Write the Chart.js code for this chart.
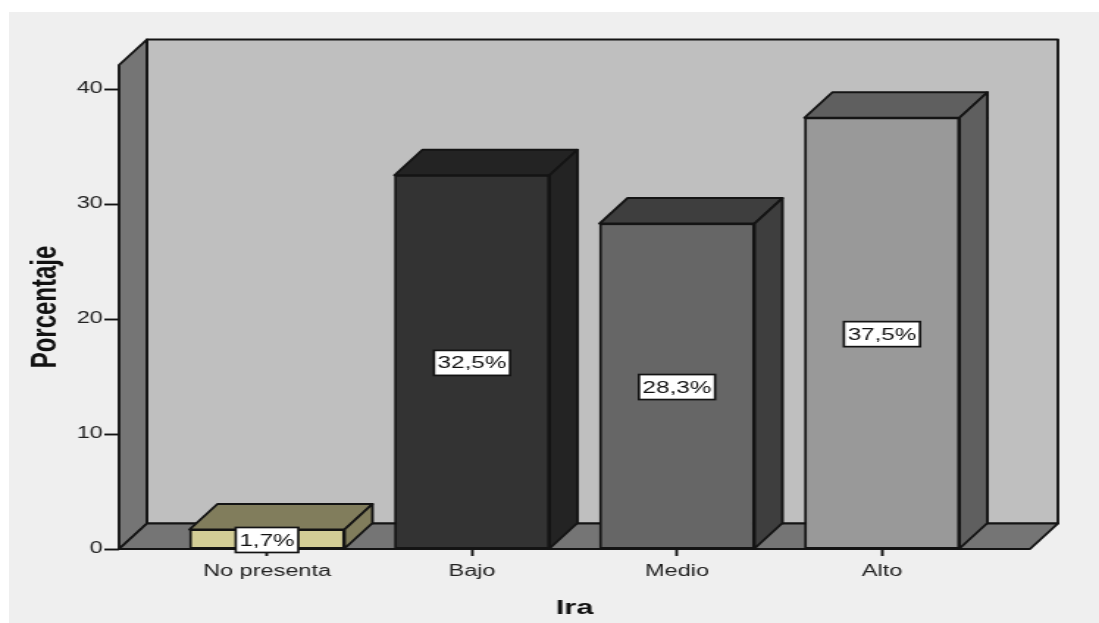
<!DOCTYPE html>
<html>
<head>
<meta charset="utf-8">
<script src="https://cdn.jsdelivr.net/npm/chart.js@4"></script>
<style>
  html, body { margin: 0; background: #fff; overflow: hidden; }
  #bg { position: absolute; left: 9px; top: 12px; right: 0; bottom: 0; background: #efefef; }
  /* the reference is a stretched screenshot, so the canvas is stretched the same way */
  #my-chart { position: absolute; left: 0; top: 0; transform-origin: 0 0; transform: scaleX(1.4693); }
</style>
</head>
<body>
<div id="bg"></div>
<canvas id="my-chart" width="748" height="623"></canvas>
<script>
const categories = ['No presenta', 'Bajo', 'Medio', 'Alto'];
const percentages = [1.7, 32.5, 28.3, 37.5];
const percentLabels = ['1,7%', '32,5%', '28,3%', '37,5%'];

const frontColors = ['#d3cd96', '#333333', '#666666', '#999999'];
const shadeColors = ['#817d5c', '#232323', '#3e3e3e', '#5f5f5f'];

const lineColor = '#141414';
const lineWidth = 1.9;
const depthX = 19;
const depthY = 25.5;

function poly(ctx, pts, fill) {
    ctx.beginPath();
    pts.forEach((p, i) => i ? ctx.lineTo(p[0], p[1]) : ctx.moveTo(p[0], p[1]));
    ctx.closePath();
    ctx.fillStyle = fill;
    ctx.fill();
    ctx.stroke();
}

const box3d = {
    id: 'box3d',
    beforeDatasetsDraw(chart) {
        const ctx = chart.ctx;
        const a = chart.chartArea;
        ctx.save();
        ctx.strokeStyle = lineColor;
        ctx.lineWidth = lineWidth;
        ctx.lineJoin = 'round';

        // back wall, left wall, floor
        poly(ctx, [[a.left + depthX, a.top - depthY], [a.right + depthX, a.top - depthY], [a.right + depthX, a.bottom - depthY], [a.left + depthX, a.bottom - depthY]], '#bfbfbf');
        poly(ctx, [[a.left, a.top], [a.left + depthX, a.top - depthY], [a.left + depthX, a.bottom - depthY], [a.left, a.bottom]], '#757575');
        poly(ctx, [[a.left, a.bottom], [a.left + depthX, a.bottom - depthY], [a.right + depthX, a.bottom - depthY], [a.right, a.bottom]], '#757575');

        // top and side of the bars
        chart.getDatasetMeta(0).data.forEach((bar, i) => {
            const l = bar.x - bar.width / 2;
            const r = bar.x + bar.width / 2;
            poly(ctx, [[l, bar.y], [l + depthX, bar.y - depthY], [r + depthX, bar.y - depthY], [r, bar.y]], shadeColors[i]);
            poly(ctx, [[r, bar.y], [r + depthX, bar.y - depthY], [r + depthX, bar.base - depthY], [r, bar.base]], shadeColors[i]);
        });
        ctx.restore();
    },
    afterDatasetsDraw(chart) {
        const ctx = chart.ctx;
        ctx.save();
        ctx.font = '16.5px "Liberation Sans"';
        ctx.textAlign = 'center';
        ctx.textBaseline = 'middle';
        chart.getDatasetMeta(0).data.forEach((bar, i) => {
            const w = ctx.measureText(percentLabels[i]).width + 5;
            const cy = (bar.y + bar.base) / 2 + 1;
            ctx.fillStyle = '#fff';
            ctx.strokeStyle = lineColor;
            ctx.lineWidth = 1.7;
            ctx.fillRect(bar.x - w / 2, cy - 12.5, w, 25);
            ctx.strokeRect(bar.x - w / 2, cy - 12.5, w, 25);
            ctx.fillStyle = '#111';
            ctx.fillText(percentLabels[i], bar.x, cy + 1);
        });
        ctx.restore();
    }
};

const ctx = document.getElementById('my-chart').getContext('2d');
const chart = new Chart(ctx, {
    type: 'bar',
    data: {
        datasets: [
            {
                data: percentages.map((v, i) => ({ x: i, y: v })),
                backgroundColor: frontColors,
                borderColor: lineColor,
                borderWidth: lineWidth,
                borderSkipped: false,
                barThickness: 105.5
            }
        ]
    },
    options: {
        responsive: false,
        animation: false,
        devicePixelRatio: 1,
        layout: { padding: { top: 65, right: 47, left: 0, bottom: 0 } },
        plugins: { legend: { display: false }, tooltip: { enabled: false } },
        scales: {
            x: {
                type: 'linear',
                offset: false,
                min: -0.722,
                max: 3.722,
                afterBuildTicks: scale => { scale.ticks = categories.map((c, i) => ({ value: i })); },
                afterFit: scale => { scale.height = 74; },
                border: { display: false },
                grid: { offset: false, drawOnChartArea: false, tickLength: 7, tickColor: lineColor, tickWidth: 1.9 },
                ticks: {
                    autoSkip: false,
                    maxRotation: 0,
                    padding: 6,
                    color: '#222',
                    font: { family: '"Liberation Sans"', size: 16 },
                    callback: v => categories[v]
                },
                title: {
                    display: true,
                    text: 'Ira',
                    color: '#111',
                    font: { family: '"Liberation Sans"', size: 21, weight: 'bold' },
                    padding: { top: 0, bottom: 2 }
                }
            },
            y: {
                min: 0,
                max: 42.09,
                afterFit: scale => { scale.width = 81; },
                border: { display: false },
                grid: { drawOnChartArea: false, tickLength: 10, tickColor: lineColor, tickWidth: 1.9 },
                ticks: {
                    stepSize: 10,
                    includeBounds: false,
                    padding: 1,
                    color: '#222',
                    font: { family: '"Liberation Sans"', size: 16 }
                },
                title: {
                    display: true,
                    text: 'Porcentaje',
                    color: '#111',
                    font: { family: '"Liberation Sans"', size: 24, weight: 'bold' },
                    padding: { top: 17, bottom: 0 }
                }
            }
        }
    },
    plugins: [box3d]
});
</script>
</body>
</html>
